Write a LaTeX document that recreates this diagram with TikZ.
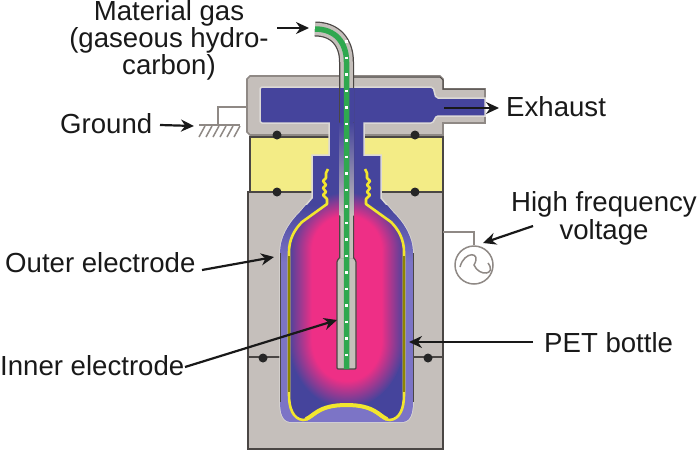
\documentclass[tikz,border=0pt]{standalone}
\usepackage{fontspec}
\setmainfont{Liberation Sans}
\usepackage{tikz}
\usetikzlibrary{arrows.meta,positioning,calc}
\definecolor{blockgrey}{HTML}{C5BFBB}
\definecolor{edgegrey}{HTML}{4A4644}
\definecolor{wiregrey}{HTML}{8F8985}
\definecolor{lidyellow}{HTML}{F3EC86}
\definecolor{plasmablue}{HTML}{45449C}
\definecolor{bandpurple}{HTML}{7C74C6}
\definecolor{plasmapink}{HTML}{EE2F86}
\definecolor{linery}{HTML}{F2E62E}
\definecolor{pipegreen}{HTML}{2FA84F}
\pgfdeclareradialshading{glow}{\pgfpointorigin}{
  color(0bp)=(plasmapink); color(15bp)=(plasmapink);
  color(25bp)=(plasmablue); color(50bp)=(plasmablue)}
\pgfdeclarehorizontalshading{glowstrip}{100bp}{
  color(0bp)=(plasmablue); color(25bp)=(plasmablue); color(35bp)=(plasmapink);
  color(65bp)=(plasmapink); color(75bp)=(plasmablue); color(100bp)=(plasmablue)}
\def\cavitypath{(262,87) -- (431,87) to[out=0,in=180] (438,98) -- (485,98) -- (485,116)
  -- (438,116) to[out=180,in=0] (431,123) -- (364,123) -- (364,155) -- (381,155) -- (381,198)
  -- (393,212) .. controls (405,224) and (413,238) .. (413,253) -- (413,402)
  .. controls (413,414) and (410,422) .. (402,422) -- (291,422)
  .. controls (283,422) and (280,414) .. (280,402) -- (280,253)
  .. controls (280,238) and (288,224) .. (300,212) -- (312,198) -- (312,155) -- (329,155)
  -- (329,123) -- (262,123) .. controls (260,123) and (260,121) .. (260,119)
  -- (260,91) .. controls (260,89) and (260,87) .. (262,87) -- cycle}
\def\linerpath{(328,169) -- (326,173) -- (326,178) -- (323,181) -- (326,185) -- (323,188)
  -- (326,192) -- (323,195) -- (327,199) -- (327,204) -- (302,222)
  .. controls (294,230) and (289,240) .. (289,252) -- (289,395)
  .. controls (289,408) and (293,419) .. (303,420) .. controls (313,420) and (316,405) .. (346.5,405)
  .. controls (377,405) and (380,420) .. (390,420) .. controls (400,419) and (404,408) .. (404,395)
  -- (404,252) .. controls (404,240) and (399,230) .. (391,222) -- (366,204) -- (366,199)
  -- (370,195) -- (367,192) -- (370,188) -- (367,185) -- (370,181) -- (367,178) -- (367,173) -- (365,169)}
\def\pipepath{(315,29) .. controls (335,29) and (346.5,42) .. (346.5,62) -- (346.5,258)}
\begin{document}
\begin{tikzpicture}[
  x=1pt,y=-1pt,
  label/.style={inner sep=0pt,align=center,text=black!90,
                font=\fontsize{27.6}{24.5}\selectfont},
  arrow/.style={-{Stealth[length=13pt,width=12pt]},line width=2.2pt,color=black!90},
  block/.style={draw=edgegrey,line width=1.6pt,fill=#1},
  wire/.style={draw=wiregrey,line width=1.5pt},
  pin/.style={circle,fill=black!85,inner sep=0pt,minimum size=9pt}
]
\useasboundingbox (0,0) rectangle (700,453);
% mould blocks
\path[block=blockgrey] (248,192) rectangle (443,449);
\path[block=lidyellow] (250,137) rectangle (443,192);
\path[fill=blockgrey,draw=wiregrey,line width=1.6pt] (250,76) -- (440,76) -- (443,79) -- (443,89)
  -- (485,89) -- (485,123) -- (443,123) -- (443,135) -- (250,135) -- (247,132) -- (247,79) -- cycle;
\draw[edgegrey,line width=1.6pt] (248,357) -- (443,357);
\draw[edgegrey,line width=1pt] (353,77) -- (440,77) -- (443,80) -- (443,89) -- (485,89);
% plasma and bottle
\path[draw=blockgrey!60!white,line width=1.5pt,fill=plasmablue] \cavitypath;
\begin{scope}
  \clip \cavitypath;
  \shade[top color=plasmablue,bottom color=bandpurple] (270,205) rectangle (423,262);
  \fill[bandpurple] (270,262) rectangle (423,425);
\end{scope}
\begin{scope}
  \clip \linerpath -- cycle;
  \fill[plasmablue] (270,160) rectangle (423,425);
  \begin{scope}
    \clip (270,160) rectangle (423,250.5);
    \path[shading=glow] (346.5,250) ellipse [x radius=58,y radius=58];
  \end{scope}
  \begin{scope}
    \clip (270,339.5) rectangle (423,425);
    \path[shading=glow] (346.5,340) ellipse [x radius=58,y radius=68];
  \end{scope}
  \path[shading=glowstrip] (288.5,250) rectangle (404.5,340);
\end{scope}
\draw[edgegrey,line width=1pt] (280,253) -- (280,402) (413,253) -- (413,402);
\draw[linery,line width=2.6pt,line join=round] \linerpath;
\draw[linery,line width=4pt] (306,419) .. controls (314,416) and (318,405) .. (346.5,405)
  .. controls (375,405) and (379,416) .. (387,419);
\draw[olive,line width=1.2pt] (289,256) -- (289,392) (404,256) -- (404,392);
% electrode pipe
\draw[edgegrey,fill=blockgrey,line width=1.2pt,rounded corners=1pt] (340,257) -- (353,257) -- (356,261)
  -- (356,369) -- (337,369) -- (337,261) -- cycle;
\draw[edgegrey,line width=15pt] \pipepath;
\draw[blockgrey,line width=12.5pt] \pipepath;
\fill[plasmablue] (339.5,88) rectangle (353.5,122);
\shade[top color=plasmablue,bottom color=blockgrey] (339.5,122) rectangle (353.5,215);
\draw[pipegreen,line width=5.5pt] \pipepath -- (346.5,369);
\draw[white,line width=2.5pt,dash pattern=on 2.5pt off 14pt] (346.5,40) -- (346.5,369);
% pins
\foreach \px/\py [count=\i] in {277/135,415/135,277/192,415/192,263/358,428/358}
  \node[pin] (pin\i) at (\px,\py) {};
% ground and source
\coordinate (groundtap) at (247,107);
\coordinate (groundbar) at (218,125);
\draw[wire] (groundtap) -| (groundbar);
\draw[wire] (199,125) -- (240,125);
\foreach \hx in {205,212,219,226,233,240}
  \draw[wire] (\hx,126) -- ++(-6,11);
\node[draw=wiregrey,line width=1.5pt,circle,minimum size=38pt,inner sep=0pt] (source) at (474,265) {};
\coordinate (sourcetap) at (443,232);
\draw[wire] (sourcetap) -| (source.north);
\draw[wire] (source.center) ++(-14,2) .. controls ++(4,-16) and ++(8,-14) .. ++(14,-2)
  .. controls ++(5,12) and ++(9,12) .. ++(14,-2);
% labels
\node[label] (gaslabel) at (169,40.5) {Material gas\\(gaseous hydro-\\carbon)};
\node[label,anchor=base west] (exhaustlabel) at (506,116) {Exhaust};
\node[label,anchor=base west] (groundlabel) at (60,133) {Ground};
\node[label] (voltagelabel) at (604,218.5) {High frequency\\[1.5pt]voltage};
\node[label,anchor=base west] (outerlabel) at (5,272) {Outer electrode};
\node[label,anchor=base west] (innerlabel) at (0,375) {Inner electrode};
\node[label,anchor=base west] (petlabel) at (544,352) {PET bottle};
% pointers
\coordinate (gastail) at (277,28);   \coordinate (gastip) at (309,28);
\coordinate (exhausttail) at (444,108); \coordinate (exhausttip) at (499,108);
\coordinate (groundtail) at (160,125); \coordinate (groundtip) at (194,126);
\coordinate (voltagetail) at (533,226); \coordinate (voltagetip) at (483,243);
\coordinate (outertail) at (202,270); \coordinate (outertip) at (274,257);
\coordinate (innertail) at (185,367); \coordinate (innertip) at (337,320);
\coordinate (pettail) at (533,342); \coordinate (pettip) at (409,342);
\draw[arrow] (gastail) -- (gastip);
\draw[arrow] (exhausttail) -- (exhausttip);
\draw[arrow] (groundtail) -- (groundtip);
\draw[arrow] (voltagetail) -- (voltagetip);
\draw[arrow] (outertail) -- (outertip);
\draw[arrow] (innertail) -- (innertip);
\draw[arrow] (pettail) -- (pettip);
\end{tikzpicture}
\end{document}
